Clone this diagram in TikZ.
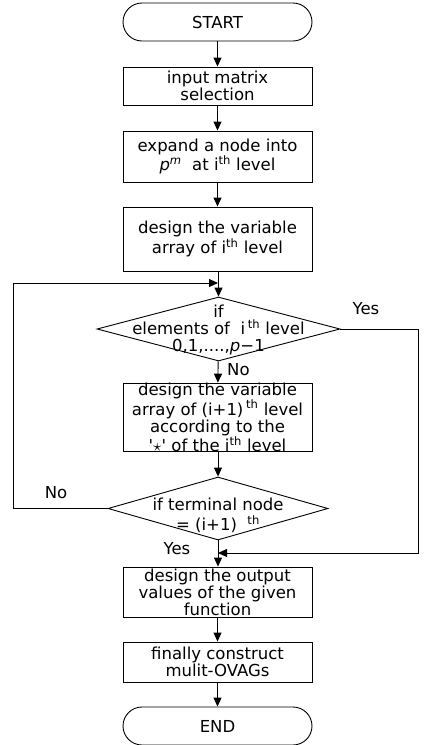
\documentclass[tikz,border=0pt]{standalone}
\usepackage{fontspec}
\setmainfont{DejaVu Sans}
\usetikzlibrary{arrows.meta,shapes.geometric}
\begin{document}
\begin{tikzpicture}[x=1pt,y=-1pt,
  every node/.style={font=\fontsize{16.5}{17}\selectfont},
  box/.style={draw,line width=0.9pt,minimum width=189pt,inner sep=0pt,align=center},
  term/.style={draw,line width=0.9pt,rounded corners=19pt,minimum width=189pt,inner sep=0pt},
  dia/.style={draw,diamond,line width=0.9pt,inner sep=0pt},
  lbl/.style={inner sep=0pt,align=center},
  arr/.style={line width=0.9pt,-{Triangle[length=9pt,width=8pt]}},
  ln/.style={line width=0.9pt}]
\useasboundingbox (0,0) rectangle (424,745);

\node[term,minimum height=38pt] (start) at (217.5,22) {START};
\node[box,minimum height=38pt] (b1) at (217.5,86) {input matrix\\selection};
\node[box,minimum height=51pt] (b2) at (217.5,156.5) {expand a node into\\\textit{p}\textsuperscript{\textit{m}}\ \ at i\textsuperscript{th} level};
\node[box,minimum height=64pt] (b3) at (217.5,239) {design the variable\\array of i\textsuperscript{th} level};
\node[dia,minimum width=243pt,minimum height=64pt] (d1) at (218.5,329) {};
\node[lbl] (d1t) at (218.5,330) {if\\elements of \ i\,\textsuperscript{th} level\\0,1,....,\textit{p}−1};
\node[box,minimum height=65pt] (b4) at (217.5,417.5) {design the variable\\array of (i+1)\,\textsuperscript{th} level\\according to the\\\textquotesingle$\star$\textquotesingle\ of the i\textsuperscript{th} level};
\node[dia,minimum width=220pt,minimum height=63pt] (d2) at (218,508.5) {};
\node[lbl,font=\fontsize{16.5}{19.5}\selectfont] (d2t) at (218,515.5) {if terminal node\\= (i+1) \ \textsuperscript{th}};
\node[box,minimum height=50pt] (b5) at (217.5,592) {design the output\\values of the given\\function};
\node[box,minimum height=40pt] (b6) at (217.5,662) {finally construct\\mulit-OVAGs};
\node[term,minimum height=38pt] (end) at (217.5,726) {END};

\coordinate (j1) at (218,283);
\coordinate (j2) at (218,553);
\coordinate (l1) at (13,508.5);
\coordinate (l2) at (13,283);
\coordinate (r1) at (418,329);
\coordinate (r2) at (418,553);

\node[lbl] (yes1) at (366,309) {Yes};
\node[lbl,anchor=west] (no1) at (227,370) {No};
\node[lbl] (no2) at (56,493) {No};
\node[lbl] (yes2) at (177,549) {Yes};

\draw[arr] (start) -- (b1);
\draw[arr] (b1) -- (b2);
\draw[arr] (b2) -- (b3);
\draw[arr] (b3.south -| d1.north) -- (d1.north);
\draw[arr] (d1) -- (b4);
\draw[arr] (b4.south -| d2.north) -- (d2.north);
\draw[arr] (d2.south) -- (b5.north -| d2.south);
\draw[arr] (b5) -- (b6);
\draw[arr] (b6) -- (end);
\draw[arr] (d2.west) -- (l1) -- (l2) -- (j1);
\draw[arr] (d1.east) -- (r1) -- (r2) -- (j2);
\end{tikzpicture}
\end{document}
